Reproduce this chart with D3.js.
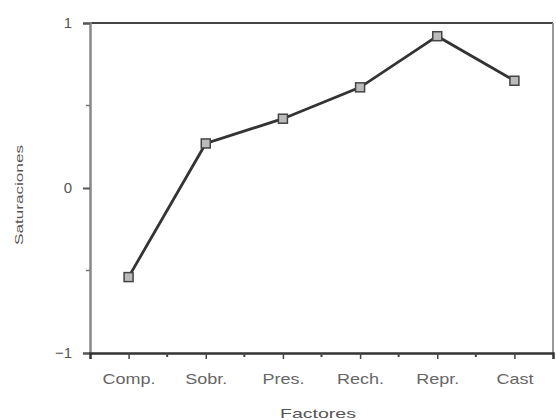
<!DOCTYPE html>
<html>
<head>
<meta charset="utf-8">
<script src="https://cdn.jsdelivr.net/npm/d3@7"></script>
<style>
    body { margin: 0; background: #fff; }
    text { font-family: "Liberation Sans", Arial, sans-serif; }
</style>
</head>
<body>
<div id="chart"></div>
<script>
// chart data
const factors = ["Comp.", "Sobr.", "Pres.", "Rech.", "Repr.", "Cast"];
const loadings = [-0.54, 0.27, 0.42, 0.61, 0.92, 0.65];
const yTicks = [-1, 0, 1];
const yMinorTicks = [-0.5, 0.5];

const svg = d3.select("#chart").append("svg")
    .attr("width", 556)
    .attr("height", 420);

const margin = { top: 23, right: 3, bottom: 67, left: 90 };
const width = 556 - margin.left - margin.right;
const height = 420 - margin.top - margin.bottom;

const g = svg.append("g").attr("transform", `translate(${margin.left},${margin.top})`);

const x = d3.scalePoint().domain(factors).range([0, width]).padding(0.5);
const y = d3.scaleLinear().domain([-1, 1]).range([height, 0]);

// frame: top and right borders
g.append("line")
    .attr("x1", 0).attr("x2", width)
    .attr("y1", 0).attr("y2", 0)
    .attr("stroke", "#444").attr("stroke-width", 2);
g.append("line")
    .attr("x1", width).attr("x2", width)
    .attr("y1", 0).attr("y2", height)
    .attr("stroke", "#999").attr("stroke-width", 2);

// y axis
const yAxis = g.append("g")
    .call(d3.axisLeft(y).tickValues(yTicks).tickFormat(d3.format("d")).tickSize(7).tickPadding(11));
yAxis.select(".domain").attr("stroke", "#888").attr("stroke-width", 2.5);
yAxis.selectAll(".tick line").attr("stroke", "#555").attr("stroke-width", 2);
yAxis.selectAll("text")
    .style("font-size", "15px")
    .attr("fill", "#555");
g.append("g")
    .selectAll("line")
    .data(yMinorTicks)
    .enter().append("line")
    .attr("x1", -4).attr("x2", 0)
    .attr("y1", d => y(d)).attr("y2", d => y(d))
    .attr("stroke", "#777").attr("stroke-width", 1.5);

// x axis
const xAxis = g.append("g")
    .attr("transform", `translate(0,${height})`)
    .call(d3.axisBottom(x).tickSize(6).tickPadding(14));
xAxis.select(".domain").attr("stroke", "#333").attr("stroke-width", 2.5);
xAxis.selectAll(".tick line").attr("stroke", "#444").attr("stroke-width", 1.5);
xAxis.selectAll("text")
    .style("font-size", "15px")
    .attr("fill", "#666")
    .each(function() {
        // labels in the picture are drawn a bit wider than normal
        const w = this.getComputedTextLength();
        d3.select(this)
            .attr("textLength", w * 1.2)
            .attr("lengthAdjust", "spacingAndGlyphs");
    });
// minor ticks between categories
const step = x.step();
const minorX = factors.slice(0, -1).map(d => x(d) + step / 2);
g.append("g")
    .selectAll("line")
    .data(minorX)
    .enter().append("line")
    .attr("x1", d => d).attr("x2", d => d)
    .attr("y1", height).attr("y2", height + 4)
    .attr("stroke", "#444").attr("stroke-width", 2);

// line
const line = d3.line()
    .x((d, i) => x(factors[i]))
    .y(d => y(d));

g.append("path")
    .datum(loadings)
    .attr("fill", "none")
    .attr("stroke", "#333")
    .attr("stroke-width", 2.8)
    .attr("d", line);

g.selectAll(".pt")
    .data(loadings)
    .enter().append("rect")
    .attr("class", "pt")
    .attr("x", (d, i) => x(factors[i]) - 4.5)
    .attr("y", d => y(d) - 4.5)
    .attr("width", 9)
    .attr("height", 9)
    .attr("fill", "#bbb")
    .attr("stroke", "#444")
    .attr("stroke-width", 1.5);

// axis titles
svg.append("text")
    .attr("transform", "translate(23,195) rotate(-90)")
    .attr("text-anchor", "middle")
    .attr("textLength", 100)
    .attr("lengthAdjust", "spacingAndGlyphs")
    .attr("font-size", 10)
    .attr("fill", "#555")
    .text("Saturaciones");

svg.append("text")
    .attr("x", 318)
    .attr("y", 418)
    .attr("text-anchor", "middle")
    .attr("textLength", 76)
    .attr("lengthAdjust", "spacingAndGlyphs")
    .attr("font-size", 13)
    .attr("fill", "#555")
    .text("Factores");
</script>
</body>
</html>
